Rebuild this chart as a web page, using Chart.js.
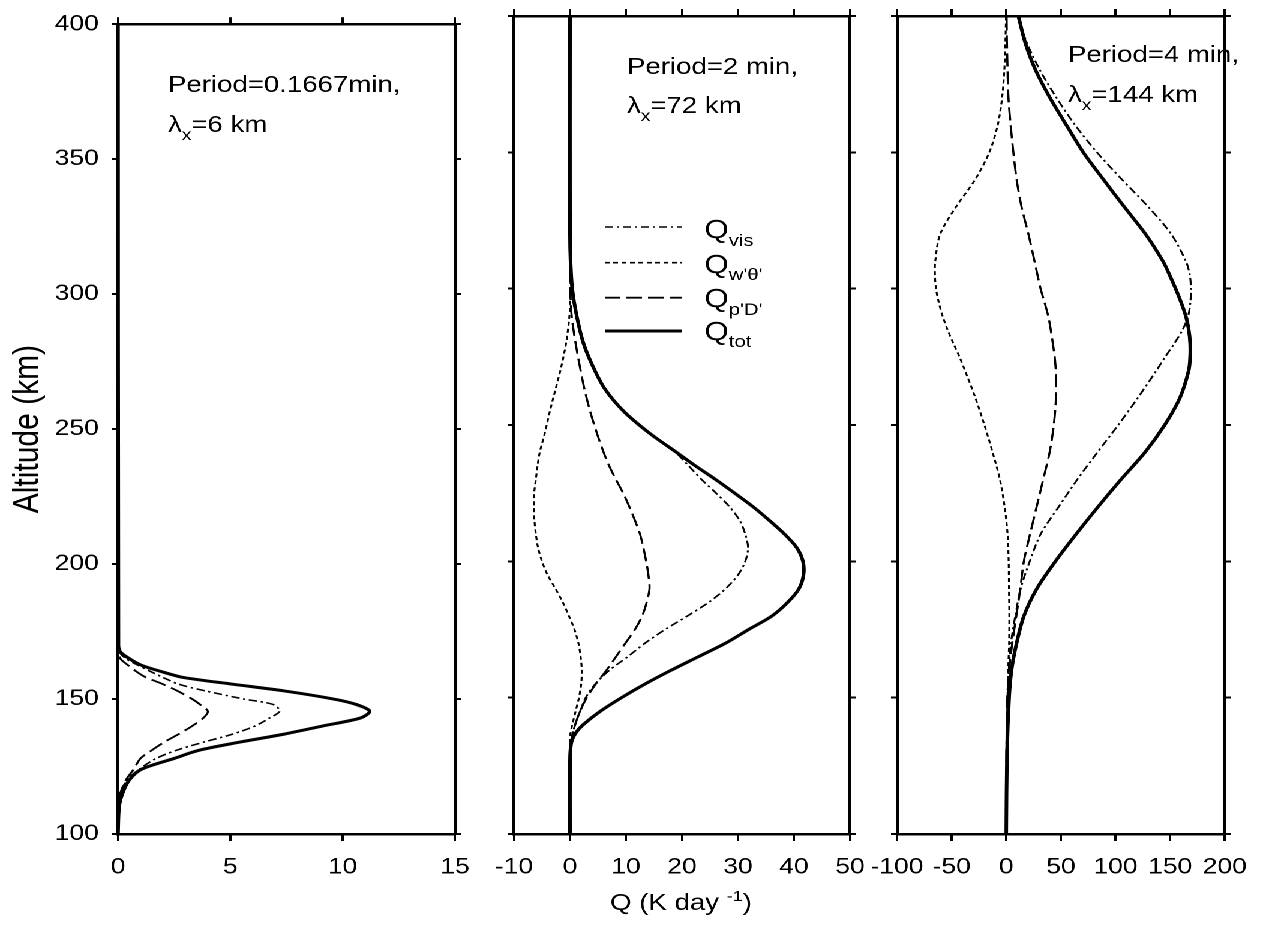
<!DOCTYPE html>
<html><head><meta charset="utf-8">
<script src="https://cdn.jsdelivr.net/npm/chart.js@4.4.1/dist/chart.umd.min.js"></script>
<style>
html,body{margin:0;padding:0;background:#fff;overflow:hidden;width:1262px;height:925px}
#wrap{position:absolute;left:0;top:0;width:1052px;height:925px;transform:scaleX(1.2);transform-origin:0 0}
canvas{position:absolute;top:0}
</style></head><body>
<div id="wrap">
<canvas id="c1" width="420" height="925" style="left:0px"></canvas>
<canvas id="c2" width="380" height="925" style="left:370px"></canvas>
<canvas id="c3" width="352" height="925" style="left:700px"></canvas>
</div>
<script>
// ---------- data (Q in K/day, altitude in km) ----------
const altTicks = [100, 150, 200, 250, 300, 350, 400];

const alt1 = [100,110,115,120,124,128,131,134,137,140,143,145.5,148,150,153,155.5,158,160,162.5,165,167.5,170,400];
const tot1 = [0,0.05,0.2,0.5,1.05,2.5,3.6,5.4,7.4,9.1,10.8,11.2,10.6,9.6,7.4,5.1,2.9,2.0,1.05,0.5,0.1,0.02,0];
const vis1 = [0,0,0.1,0.4,0.95,1.7,2.6,3.8,5.1,6.1,6.75,7.2,6.9,5.6,3.9,2.7,2.0,1.5,0.9,0.35,0.05,0,0];
const pd1  = [0,0,0.1,0.35,0.7,1.0,1.5,2.05,2.7,3.3,3.8,4.0,3.65,3.3,2.65,2.0,1.25,0.85,0.45,0.1,0.02,0,0];
const ww1  = [0,0,0,0,0,0,0,0,0,0,0,0,0,0,0,0,0,0,0,0,0,0,0];

const alt2 = [100,125,130,134,137,140,145,150,155,160,165,170,175,180,185,190,195,200,205,210,215,220,225,230,235,240,247,255,263,271,280,290,300,310,320,400];
const tot2 = [0,0,0.05,0.3,1.0,2.3,5.4,9.2,13.4,18.0,22.9,27.8,31.9,36.1,38.9,40.9,41.7,41.6,40.5,38.3,35.6,32.7,29.4,26.0,22.4,19.0,14.2,9.6,6.3,4.2,2.4,1.2,0.4,0.1,0,0];
const vis2 = [0,0,0,0.2,0.5,0.9,1.8,2.8,4.5,7.0,10.3,13.4,17.0,21.0,24.8,27.8,30.0,31.3,31.8,31.3,30.3,28.5,26.1,23.5,21.2,18.8,14.0,9.5,6.2,4.1,2.3,1.1,0.3,0.05,0,0];
const pd2  = [0,0,0,0.2,0.5,0.9,1.8,3.0,4.6,6.5,8.2,9.9,11.6,12.9,13.7,14.2,14.0,13.6,13.1,12.5,11.6,10.6,9.5,8.2,7.0,6.0,4.8,3.6,2.6,1.8,1.0,0.3,0.05,0,0,0];
const ww2  = [0,0,0,0,0.1,0.4,1.0,1.6,2.0,2.1,1.9,1.5,0.8,-0.2,-1.3,-2.6,-4.0,-5.0,-5.7,-6.1,-6.35,-6.45,-6.4,-6.1,-5.8,-5.4,-4.5,-3.6,-2.6,-1.6,-0.7,-0.1,0.1,0,0,0];

const alt3 = [100,130,150,160,170,180,190,200,210,220,230,240,250,260,270,275,280,285,290,295,300,305,310,320,330,340,350,360,370,380,390,400];
const tot3 = [0,0.7,2.6,4.8,9.5,16.2,28,45,64,84,105,127,145,159,167,168.3,168.3,167,164.3,160,155,149.5,143.5,127.5,108,89,70.5,55,40,27,17.5,11.1];
const vis3 = [0,0.3,1.2,2.3,4.3,8.3,13.2,21.5,31.5,48,65,83.5,102.5,120.5,137.5,145.5,154,161.5,166.5,168.5,169,168,164.5,151,130,106,83,63,46,31,19,10];
const pd3  = [0,0.2,1.0,2.6,5.5,9.2,12.9,16.1,21.8,27.8,33.8,39.7,43.5,45.5,45.3,44.3,42.6,40.7,38.4,35.0,31.4,28.6,25.9,20.3,14.0,9.5,6.5,4.0,2.0,1.2,0.6,0.3];
const ww3  = [0,0.5,1.2,1.8,2.6,2.8,2.5,2.2,1.2,-1.5,-5.8,-12.5,-20,-28.3,-37.8,-42.8,-48.5,-53.8,-58.3,-61.8,-64.3,-65.3,-65,-60.5,-46,-28.5,-15.5,-7.8,-3.8,-1.8,-0.8,-0.2];

const xRange1 = [0, 15, 5];
const xRange2 = [-10, 50, 10];
const xRange3 = [-100, 200, 50];

const seriesNames = ['tot', 'vis', 'ww', 'pd'];

// ---------- styles ----------
const FONT = "'Liberation Sans', Arial, Helvetica, sans-serif";
const STY = {
  tot: {w: 3.0, dash: []},
  vis: {w: 1.6, dash: [7, 3, 2, 3]},
  ww:  {w: 1.6, dash: [4, 3]},
  pd:  {w: 1.8, dash: [13, 5]}
};

function pts(alt, q) { return alt.map((a, i) => ({x: q[i], y: a})); }

function makeDatasets(alt, s) {
  return seriesNames.map(n => ({
    label: n,
    data: pts(alt, s[n]),
    borderColor: '#000',
    borderWidth: STY[n].w,
    borderDash: STY[n].dash,
    pointRadius: 0,
    tension: 0.3,
    fill: false,
    xAxisID: 'x',
    yAxisID: 'y'
  }));
}

function makeScales(r, leftW, rightW, showY) {
  const border = {display: true, color: '#000', width: 2.5};
  const gridH = {drawOnChartArea: false, drawTicks: true, color: '#000', lineWidth: 2, tickLength: 7};
  const gridV = {drawOnChartArea: false, drawTicks: true, color: '#000', lineWidth: 2, tickLength: 5};
  const tickFont = {family: FONT, size: 22};
  return {
    x: {type: 'linear', position: 'bottom', min: r[0], max: r[1], border, grid: gridH,
        ticks: {stepSize: r[2], color: '#000', font: tickFont, padding: 13, maxRotation: 0, minRotation: 0, autoSkip: false},
        afterFit: s => { s.height = 91; }},
    xTop: {type: 'linear', position: 'top', min: r[0], max: r[1], border, grid: gridH,
        ticks: {stepSize: r[2], display: false},
        afterFit: s => { s.height = 16; }},
    y: {type: 'linear', position: 'left', min: altTicks[0], max: altTicks[altTicks.length - 1], border, grid: gridV,
        afterBuildTicks: s => { s.ticks = altTicks.map(v => ({value: v})); },
        ticks: {display: showY, color: '#000', font: tickFont, padding: 11},
        title: {display: showY, text: 'Altitude (km)', color: '#000', font: {family: FONT, size: 30}, padding: {top: 5, bottom: 0}},
        afterFit: s => { s.width = leftW; }},
    yRight: {type: 'linear', position: 'right', min: altTicks[0], max: altTicks[altTicks.length - 1], border, grid: gridV,
        afterBuildTicks: s => { s.ticks = altTicks.map(v => ({value: v})); },
        ticks: {display: false},
        afterFit: s => { s.width = rightW; }}
  };
}

function notesPlugin(lines, legend) {
  return {
    id: 'notes',
    afterDraw(chart) {
      const ctx = chart.ctx;
      ctx.save();
      ctx.fillStyle = '#000';
      ctx.strokeStyle = '#000';
      ctx.textBaseline = 'alphabetic';
      ctx.textAlign = 'left';
      lines.forEach(line => {
        let x = line.x;
        if (line.center) {
          let tw = 0;
          line.parts.forEach(p => { ctx.font = p.size + 'px ' + FONT; tw += ctx.measureText(p.t).width; });
          x -= tw / 2;
        }
        line.parts.forEach(p => {
          ctx.font = p.size + 'px ' + FONT;
          ctx.fillText(p.t, x, line.y + (p.dy || 0));
          x += ctx.measureText(p.t).width;
        });
      });
      legend.forEach(it => {
        ctx.beginPath();
        ctx.setLineDash(STY[it.key].dash);
        ctx.lineWidth = STY[it.key].w;
        ctx.moveTo(it.x1, it.y);
        ctx.lineTo(it.x2, it.y);
        ctx.stroke();
      });
      ctx.restore();
    }
  };
}

function build(id, alt, s, r, leftW, rightW, showY, lines, legend) {
  new Chart(document.getElementById(id), {
    type: 'line',
    data: {datasets: makeDatasets(alt, s)},
    options: {
      responsive: false,
      animation: false,
      devicePixelRatio: 2,
      indexAxis: 'y',
      layout: {padding: 0},
      plugins: {legend: {display: false}, tooltip: {enabled: false}},
      scales: makeScales(r, leftW, rightW, showY)
    },
    plugins: [notesPlugin(lines, legend)]
  });
}

const T = 23, SUB = 16, LQ = 26, LSUB = 17;

build('c1', alt1, {tot: tot1, vis: vis1, ww: ww1, pd: pd1}, xRange1, 98.33, 40.83, true, [
  {x: 140, y: 92, parts: [{t: 'Period=0.1667min,', size: T}]},
  {x: 140, y: 132, parts: [{t: 'λ', size: T}, {t: 'x', size: SUB, dy: 8}, {t: '=6 km', size: T}]}
], []);

build('c2', alt2, {tot: tot2, vis: vis2, ww: ww2, pd: pd2}, xRange2, 58.33, 41.67, false, [
  {x: 152.5, y: 74, parts: [{t: 'Period=2 min,', size: T}]},
  {x: 152.5, y: 113, parts: [{t: 'λ', size: T}, {t: 'x', size: SUB, dy: 8}, {t: '=72 km', size: T}]},
  {x: 217, y: 238, parts: [{t: 'Q', size: LQ}, {t: 'vis', size: LSUB, dy: 8}]},
  {x: 217, y: 273, parts: [{t: 'Q', size: LQ}, {t: "w'θ'", size: LSUB, dy: 7}]},
  {x: 217, y: 307, parts: [{t: 'Q', size: LQ}, {t: "p'D'", size: LSUB, dy: 8}]},
  {x: 217, y: 340, parts: [{t: 'Q', size: LQ}, {t: 'tot', size: LSUB, dy: 7}]},
  {x: 197.5, y: 910, center: true, parts: [{t: 'Q (K day ', size: T}, {t: '-1', size: 15, dy: -9}, {t: ')', size: T}]}
], [
  {key: 'vis', x1: 134, x2: 198, y: 227},
  {key: 'ww',  x1: 134, x2: 198, y: 262.7},
  {key: 'pd',  x1: 134, x2: 198, y: 297.7},
  {key: 'tot', x1: 134, x2: 198, y: 331}
]);

build('c3', alt3, {tot: tot3, vis: vis3, ww: ww3, pd: pd3}, xRange3, 47.5, 25.33, false, [
  {x: 190, y: 62, parts: [{t: 'Period=4 min,', size: T}]},
  {x: 190, y: 102, parts: [{t: 'λ', size: T}, {t: 'x', size: SUB, dy: 8}, {t: '=144 km', size: T}]}
], []);
</script>
</body></html>
